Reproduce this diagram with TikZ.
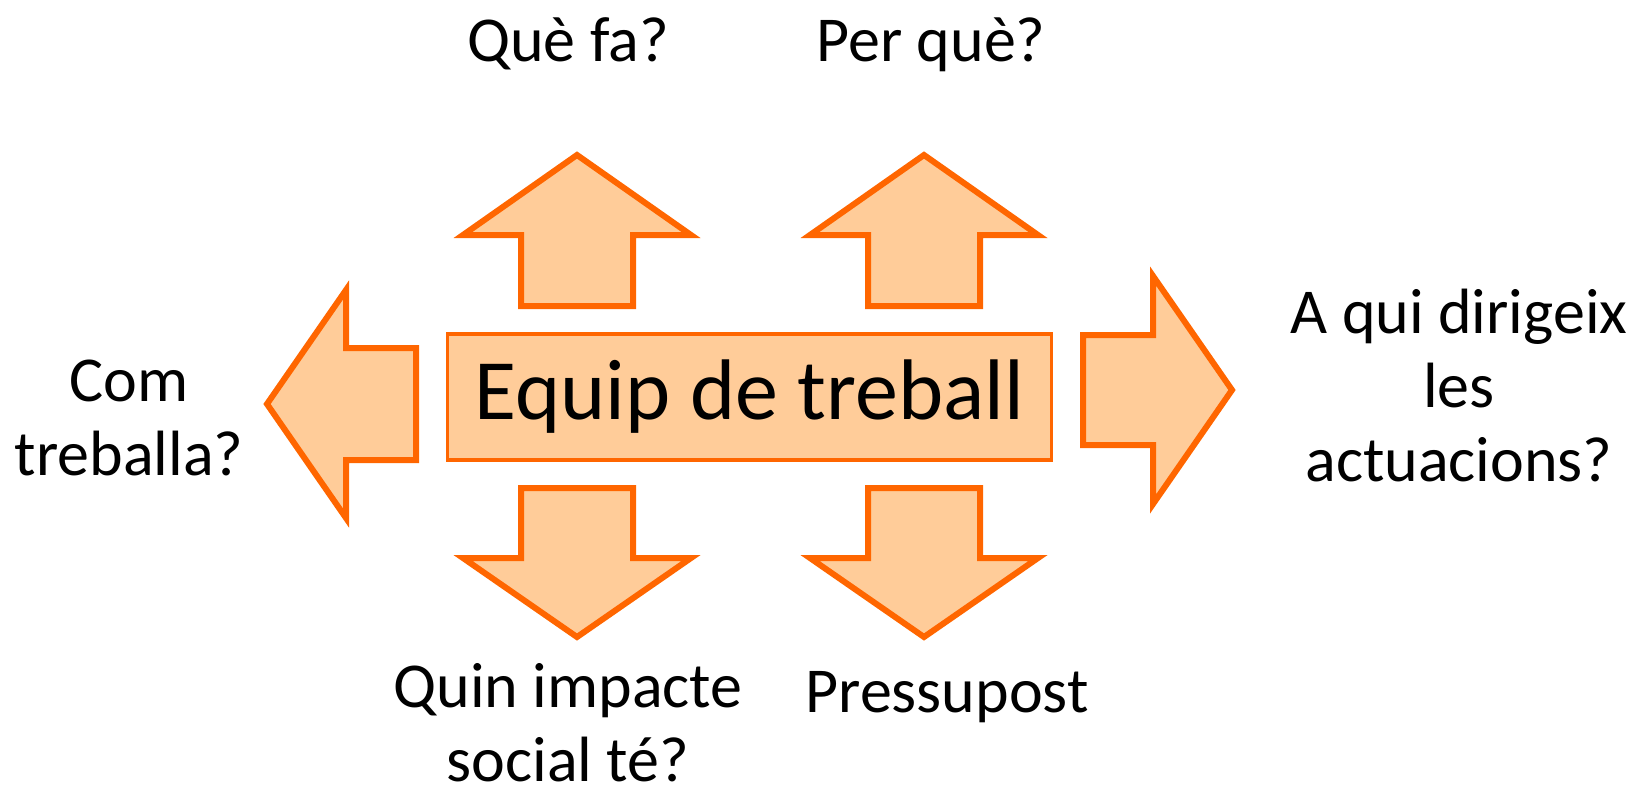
\documentclass[tikz,border=0pt]{standalone}
\usepackage{fontspec}
\setmainfont{Carlito}
\usetikzlibrary{positioning}
\definecolor{arrowline}{HTML}{FF6600}
\definecolor{arrowfill}{HTML}{FFCC99}

\begin{document}
\begin{tikzpicture}[x=1pt,y=-1pt]
    \tikzset{bigarrow/.style = {draw=arrowline,fill=arrowfill,line width=6pt,line join=miter,miter limit=10}}
    \tikzset{team/.style = {draw=arrowline,fill=arrowfill,line width=3.5pt,minimum width=604pt,minimum height=126pt,inner sep=0pt,font=\fontsize{86}{100}\selectfont}}
    \tikzset{question/.style = {align=center,inner sep=0pt,font=\fontsize{64}{74}\selectfont}}
    \useasboundingbox (0,0) rectangle (1650,795);
    % arrows up
    \draw[bigarrow,shift={(577,0)}] (0,155) -- (114,235) -- (56,235) -- (56,306) -- (-56,306) -- (-56,235) -- (-114,235) -- cycle;
    \draw[bigarrow,shift={(924,0)}] (0,155) -- (114,235) -- (56,235) -- (56,306) -- (-56,306) -- (-56,235) -- (-114,235) -- cycle;
    % arrows down
    \draw[bigarrow,shift={(577,0)}] (0,637) -- (114,558) -- (56,558) -- (56,488) -- (-56,488) -- (-56,558) -- (-114,558) -- cycle;
    \draw[bigarrow,shift={(924,0)}] (0,637) -- (114,558) -- (56,558) -- (56,488) -- (-56,488) -- (-56,558) -- (-114,558) -- cycle;
    % arrows left and right
    \draw[bigarrow,shift={(0,404)}] (267,0) -- (346,-114) -- (346,-56) -- (416,-56) -- (416,56) -- (346,56) -- (346,114) -- cycle;
    \draw[bigarrow,shift={(0,390)}] (1232,0) -- (1153,-114) -- (1153,-55) -- (1083,-55) -- (1083,55) -- (1153,55) -- (1153,114) -- cycle;
    % centre
    \node[team] (team) at (749.5,397) {Equip de treball};
    % questions
    \node[question,anchor=base] (what) at (568,61) {Què fa?};
    \node[question,anchor=base] (why) at (931,61) {Per què?};
    \node[question,anchor=base] (how) at (129,475) {Com\\treballa?};
    \node[question,anchor=base] (whom) at (1459,481) {A qui dirigeix\\les\\actuacions?};
    \node[question,anchor=base] (impact) at (568,781) {Quin impacte\\social té?};
    \node[question,anchor=base] (budget) at (947,712) {Pressupost};
\end{tikzpicture}
\end{document}
